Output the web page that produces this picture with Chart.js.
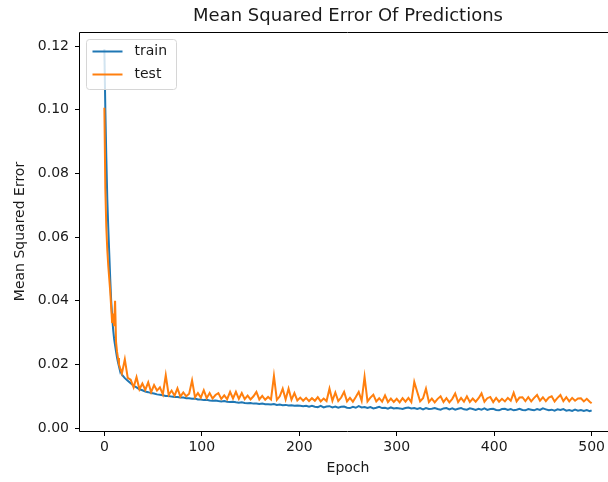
<!DOCTYPE html>
<html><head><meta charset="utf-8">
<script src="https://cdn.jsdelivr.net/npm/chart.js@4.4.1/dist/chart.umd.min.js"></script>
<style>
html,body{margin:0;padding:0;overflow:hidden;background:#fff;width:608px;height:482px}
#wrap{width:618px;height:482px}
</style></head>
<body><div id="wrap"><canvas id="c" width="618" height="482"></canvas></div>
<script>
const chartTitle = 'Mean Squared Error Of Predictions';
const xLabel = 'Epoch';
const yLabel = 'Mean Squared Error';
const seriesNames = ['train', 'test'];
const xTicks = [0, 100, 200, 300, 400, 500];
const yTicks = [0, 0.02, 0.04, 0.06, 0.08, 0.10, 0.12];

const epochs = [
0,1,2,3,4,5,6,7,8,9,
10,11,12,13,14,15,16,18,21,24,
27,30,33,36,39,42,45,48,51,54,
57,60,63,66,69,72,75,78,81,84,
87,90,93,96,99,102,105,108,111,114,
117,120,123,126,129,132,135,138,141,144,
147,150,153,156,159,162,165,168,171,174,
177,180,183,186,189,192,195,198,201,204,
207,210,213,216,219,222,225,228,231,234,
237,240,243,246,249,252,255,258,261,264,
267,270,273,276,279,282,285,288,291,294,
297,300,303,306,309,312,315,318,321,324,
327,330,333,336,339,342,345,348,351,354,
357,360,363,366,369,372,375,378,381,384,
387,390,393,396,399,402,405,408,411,414,
417,420,423,426,429,432,435,438,441,444,
447,450,453,456,459,462,465,468,471,474,
477,480,483,486,489,492,495,498,500];

const trainMSE = [
0.119,0.100,0.085,0.072,0.063,0.055,0.047,0.040,0.035,0.031,
0.028,0.026,0.024,0.0222,0.0207,0.0194,0.0183,0.0168,0.0157,0.0149,
0.0141,0.0133,0.0128,0.0122,0.0119,0.0115,0.0113,0.0110,0.0109,0.0106,
0.0105,0.0103,0.0101,0.0101,0.0099,0.0098,0.0098,0.0096,0.0096,0.0094,
0.0094,0.0092,0.0093,0.0090,0.0090,0.0088,0.0089,0.0087,0.0086,0.0087,
0.0085,0.0084,0.0085,0.0083,0.0082,0.0083,0.0081,0.0080,0.0081,0.0079,
0.0078,0.0079,0.0077,0.0077,0.0076,0.0077,0.0075,0.0075,0.0074,0.0076,
0.0073,0.0074,0.0072,0.0073,0.0071,0.0072,0.0070,0.0071,0.0070,0.0069,
0.0070,0.0067,0.0070,0.0067,0.0066,0.0070,0.0065,0.0068,0.0069,0.0065,
0.0068,0.0064,0.0067,0.0068,0.0064,0.0063,0.0067,0.0064,0.0069,0.0065,
0.0066,0.0063,0.0066,0.0062,0.0064,0.0067,0.0063,0.0064,0.0061,0.0065,
0.0062,0.0063,0.0062,0.0060,0.0063,0.0065,0.0062,0.0063,0.0060,0.0063,
0.0059,0.0063,0.0060,0.0061,0.0063,0.0060,0.0058,0.0062,0.0063,0.0059,
0.0062,0.0058,0.0061,0.0063,0.0059,0.0058,0.0062,0.0060,0.0057,0.0061,
0.0058,0.0062,0.0057,0.0060,0.0061,0.0057,0.0056,0.0060,0.0061,0.0057,
0.0060,0.0056,0.0058,0.0061,0.0057,0.0056,0.0060,0.0058,0.0056,0.0060,
0.0057,0.0062,0.0059,0.0056,0.0058,0.0055,0.0059,0.0057,0.0060,0.0055,
0.0057,0.0054,0.0058,0.0055,0.0057,0.0054,0.0057,0.0053,0.0056];

const testMSE = [
0.1006,0.075,0.063,0.056,0.051,0.047,0.043,0.038,0.033,0.036,
0.032,0.040,0.027,0.024,0.022,0.020,0.0190,0.0172,0.0216,0.0158,
0.0152,0.0128,0.0160,0.0122,0.0140,0.0120,0.0144,0.0113,0.0135,0.0118,
0.0128,0.0106,0.0166,0.0104,0.0118,0.0102,0.0125,0.0099,0.0112,0.0100,
0.0108,0.0150,0.0097,0.0110,0.0096,0.0119,0.0094,0.0110,0.0093,0.0104,
0.0110,0.0092,0.0103,0.0091,0.0114,0.0093,0.0114,0.0092,0.0110,0.0091,
0.0102,0.0090,0.0100,0.0114,0.0090,0.0101,0.0089,0.0098,0.0090,0.0164,
0.0089,0.0100,0.0124,0.0090,0.0124,0.0089,0.0110,0.0087,0.0096,0.0086,
0.0095,0.0085,0.0094,0.0086,0.0097,0.0084,0.0093,0.0085,0.0124,0.0086,
0.0112,0.0085,0.0096,0.0114,0.0084,0.0095,0.0083,0.0098,0.0114,0.0086,
0.0161,0.0084,0.0096,0.0105,0.0084,0.0094,0.0083,0.0103,0.0082,0.0093,
0.0082,0.0092,0.0081,0.0094,0.0083,0.0095,0.0082,0.0145,0.0114,0.0084,
0.0094,0.0124,0.0082,0.0093,0.0081,0.0092,0.0100,0.0082,0.0094,0.0081,
0.0092,0.0109,0.0082,0.0095,0.0083,0.0100,0.0082,0.0093,0.0083,0.0094,
0.0109,0.0083,0.0094,0.0098,0.0082,0.0095,0.0083,0.0092,0.0084,0.0095,
0.0086,0.0111,0.0084,0.0096,0.0097,0.0085,0.0097,0.0084,0.0095,0.0104,
0.0086,0.0097,0.0085,0.0096,0.0100,0.0084,0.0095,0.0104,0.0085,0.0097,
0.0084,0.0095,0.0086,0.0093,0.0094,0.0084,0.0092,0.0083,0.0078];

const seriesColors = ['#1f77b4', '#ff7f0e'];
const FONT = '"DejaVu Sans", "Liberation Sans", sans-serif';
const TXT = '#1a1a1a';

const decor = {
  id: 'decor',
  afterDraw(chart) {
    const {ctx, chartArea: a} = chart;
    const L = Math.round(a.left) - 0.5, T = Math.round(a.top) + 0.5;
    const R = Math.round(a.right) - 0.5, B = Math.round(a.bottom) + 0.5;
    ctx.save();
    ctx.strokeStyle = '#000';
    ctx.lineWidth = 1;
    ctx.beginPath();
    ctx.moveTo(R, T); ctx.lineTo(L, T); ctx.lineTo(L, B); ctx.lineTo(R, B);
    ctx.stroke();
    ctx.fillStyle = TXT;
    ctx.font = '18px ' + FONT;
    ctx.textAlign = 'center';
    ctx.textBaseline = 'middle';
    ctx.fillText(chartTitle, (a.left + a.right) / 2, 16);
    const bx = a.left + 6.5, by = a.top + 7.5, bw = 90, bh = 50, r = 3;
    ctx.beginPath();
    ctx.moveTo(bx + r, by);
    ctx.lineTo(bx + bw - r, by); ctx.quadraticCurveTo(bx + bw, by, bx + bw, by + r);
    ctx.lineTo(bx + bw, by + bh - r); ctx.quadraticCurveTo(bx + bw, by + bh, bx + bw - r, by + bh);
    ctx.lineTo(bx + r, by + bh); ctx.quadraticCurveTo(bx, by + bh, bx, by + bh - r);
    ctx.lineTo(bx, by + r); ctx.quadraticCurveTo(bx, by, bx + r, by);
    ctx.closePath();
    ctx.fillStyle = 'rgba(255,255,255,0.8)';
    ctx.fill();
    ctx.strokeStyle = '#d6d6d6';
    ctx.lineWidth = 1;
    ctx.stroke();
    ctx.font = '14px ' + FONT;
    ctx.textAlign = 'left';
    chart.data.datasets.forEach((ds, i) => {
      const yy = by + 12 + i * 23;
      ctx.strokeStyle = ds.borderColor;
      ctx.lineWidth = 2;
      ctx.beginPath();
      ctx.moveTo(bx + 6, yy); ctx.lineTo(bx + 36, yy);
      ctx.stroke();
      ctx.fillStyle = TXT;
      ctx.fillText(ds.label, bx + 48, yy);
    });
    ctx.restore();
  }
};

const tickFont = {family: FONT, size: 14};

new Chart(document.getElementById('c'), {
  type: 'line',
  data: {
    datasets: [
      {label: seriesNames[0], data: epochs.map((e, i) => ({x: e, y: trainMSE[i]})),
       borderColor: seriesColors[0], backgroundColor: seriesColors[0], borderWidth: 2,
       pointRadius: 0, tension: 0, fill: false, order: 1},
      {label: seriesNames[1], data: epochs.map((e, i) => ({x: e, y: testMSE[i]})),
       borderColor: seriesColors[1], backgroundColor: seriesColors[1], borderWidth: 2,
       pointRadius: 0, tension: 0, fill: false, order: 0}
    ]
  },
  options: {
    responsive: false,
    animation: false,
    devicePixelRatio: 1,
    layout: {padding: {top: 32, right: 2, left: 0, bottom: 0}},
    plugins: {legend: {display: false}, title: {display: false}, tooltip: {enabled: false}},
    scales: {
      x: {
        type: 'linear', min: -25, max: 525,
        afterFit: s => { s.height = 51; },
        afterBuildTicks: s => { s.ticks = xTicks.map(v => ({value: v})); },
        ticks: {font: tickFont, color: TXT, padding: 3, maxRotation: 0, autoSkip: false,
                callback: v => String(v)},
        grid: {display: true, drawOnChartArea: false, drawTicks: true, tickLength: 5,
               tickColor: '#000', tickWidth: 1},
        border: {display: false},
        title: {display: true, text: xLabel, font: tickFont, color: TXT, padding: {top: 0, bottom: 5}}
      },
      y: {
        type: 'linear', min: -0.0009, max: 0.1244,
        afterFit: s => { s.width = 80; },
        afterBuildTicks: s => { s.ticks = yTicks.map(v => ({value: v})); },
        ticks: {font: tickFont, color: TXT, padding: 6, autoSkip: false,
                callback: v => Number(v).toFixed(2)},
        grid: {display: true, drawOnChartArea: false, drawTicks: true, tickLength: 5,
               tickColor: '#000', tickWidth: 1},
        border: {display: false},
        title: {display: true, text: yLabel, font: tickFont, color: TXT, padding: {top: 12, bottom: 0}}
      }
    }
  },
  plugins: [decor]
});
</script>
</body></html>
